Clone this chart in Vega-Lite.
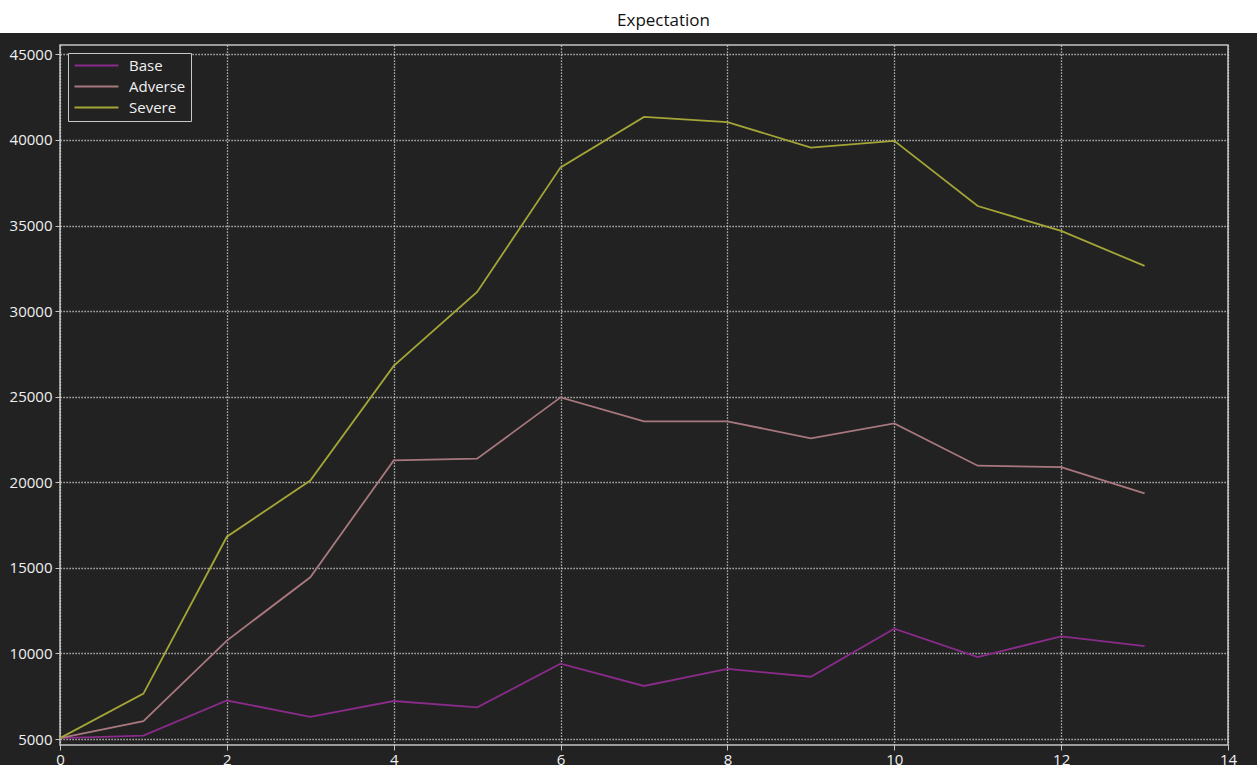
{
  "$schema": "https://vega.github.io/schema/vega-lite/v6.json",
  "background": "#222222",
  "padding": 0,
  "spacing": 11,
  "columns": 1,
  "align": "none",
  "resolve": {"scale": {"color": "independent"}, "legend": {"color": "independent"}},
  "config": {
    "font": "Open Sans"
  },
  "concat": [
    {
      "width": 1257,
      "height": 33,
      "view": {"fill": "#ffffff", "stroke": null},
      "data": {"values": [{"label": "Expectation"}]},
      "mark": {"type": "text", "font": "Open Sans", "fontSize": 17, "color": "#111111", "baseline": "alphabetic", "dx": -25, "dy": 9.5},
      "encoding": {
        "text": {"field": "label", "type": "nominal"},
        "y": {
          "field": "label",
          "type": "nominal",
          "axis": {
            "title": null,
            "labels": false,
            "ticks": false,
            "grid": false,
            "domain": true,
            "domainColor": "#ffffff",
            "domainWidth": 120,
            "domainCap": "butt",
            "translate": 0,
            "minExtent": 0,
            "maxExtent": 0
          }
        }
      }
    },
    {
      "width": 1168,
      "height": 700,
      "view": {"fill": "#222222", "stroke": "#c4c4c4", "strokeWidth": 1.5},
      "data": {
        "values": [
          {"t": 0, "scenario": "Base", "value": 5050},
          {"t": 1, "scenario": "Base", "value": 5200},
          {"t": 2, "scenario": "Base", "value": 7250},
          {"t": 3, "scenario": "Base", "value": 6300},
          {"t": 4, "scenario": "Base", "value": 7220},
          {"t": 5, "scenario": "Base", "value": 6850},
          {"t": 6, "scenario": "Base", "value": 9400},
          {"t": 7, "scenario": "Base", "value": 8100},
          {"t": 8, "scenario": "Base", "value": 9100},
          {"t": 9, "scenario": "Base", "value": 8640},
          {"t": 10, "scenario": "Base", "value": 11450},
          {"t": 11, "scenario": "Base", "value": 9790},
          {"t": 12, "scenario": "Base", "value": 11000},
          {"t": 13, "scenario": "Base", "value": 10430},
          {"t": 0, "scenario": "Adverse", "value": 5050},
          {"t": 1, "scenario": "Adverse", "value": 6040},
          {"t": 2, "scenario": "Adverse", "value": 10750},
          {"t": 3, "scenario": "Adverse", "value": 14450},
          {"t": 4, "scenario": "Adverse", "value": 21280},
          {"t": 5, "scenario": "Adverse", "value": 21380},
          {"t": 6, "scenario": "Adverse", "value": 24960},
          {"t": 7, "scenario": "Adverse", "value": 23560},
          {"t": 8, "scenario": "Adverse", "value": 23560},
          {"t": 9, "scenario": "Adverse", "value": 22570},
          {"t": 10, "scenario": "Adverse", "value": 23440},
          {"t": 11, "scenario": "Adverse", "value": 20970},
          {"t": 12, "scenario": "Adverse", "value": 20880},
          {"t": 13, "scenario": "Adverse", "value": 19350},
          {"t": 0, "scenario": "Severe", "value": 5050},
          {"t": 1, "scenario": "Severe", "value": 7650},
          {"t": 2, "scenario": "Severe", "value": 16820},
          {"t": 3, "scenario": "Severe", "value": 20100},
          {"t": 4, "scenario": "Severe", "value": 26800},
          {"t": 5, "scenario": "Severe", "value": 31120},
          {"t": 6, "scenario": "Severe", "value": 38400},
          {"t": 7, "scenario": "Severe", "value": 41350},
          {"t": 8, "scenario": "Severe", "value": 41050},
          {"t": 9, "scenario": "Severe", "value": 39550},
          {"t": 10, "scenario": "Severe", "value": 39950},
          {"t": 11, "scenario": "Severe", "value": 36140},
          {"t": 12, "scenario": "Severe", "value": 34690},
          {"t": 13, "scenario": "Severe", "value": 32640}
        ]
      },
      "mark": {"type": "line", "strokeWidth": 1.8},
      "encoding": {
        "x": {
          "field": "t",
          "type": "quantitative",
          "scale": {"domain": [0, 14], "nice": false, "zero": false},
          "axis": {
            "title": null,
            "values": [0, 2, 4, 6, 8, 10, 12, 14],
            "domain": false,
            "grid": true,
            "gridColor": "#d8d8d8",
            "gridDash": [1.2, 1.8],
            "gridWidth": 1.3,
            "gridOpacity": 1,
            "ticks": true,
            "tickColor": "#c4c4c4",
            "tickSize": 5,
            "labelColor": "#f0f0f0",
            "labelFont": "Open Sans",
            "labelFontSize": 15,
            "labelPadding": 2,
            "labelFlush": false,
            "labelOverlap": false
          }
        },
        "y": {
          "field": "value",
          "type": "quantitative",
          "scale": {"domain": [4650, 45550], "nice": false, "zero": false},
          "axis": {
            "title": null,
            "values": [5000, 10000, 15000, 20000, 25000, 30000, 35000, 40000, 45000],
            "format": "d",
            "domain": false,
            "grid": true,
            "gridColor": "#d8d8d8",
            "gridDash": [1.2, 1.8],
            "gridWidth": 1.3,
            "gridOpacity": 1,
            "ticks": true,
            "tickColor": "#c4c4c4",
            "tickSize": 5,
            "labelColor": "#f0f0f0",
            "labelFont": "Open Sans",
            "labelFontSize": 15,
            "labelPadding": 3,
            "labelFlush": false,
            "labelOverlap": false,
            "minExtent": 59,
            "maxExtent": 59
          }
        },
        "color": {
          "field": "scenario",
          "type": "nominal",
          "sort": ["Base", "Adverse", "Severe"],
          "scale": {"domain": ["Base", "Adverse", "Severe"], "range": ["#8a2b8a", "#a8787e", "#a3a636"]},
          "legend": {
            "title": null,
            "orient": "top-left",
            "offset": 8,
            "padding": 5,
            "strokeColor": "#c8c8c8",
            "fillColor": "#222222",
            "labelColor": "#f0f0f0",
            "labelFont": "Open Sans",
            "labelFontSize": 15,
            "labelOffset": 41,
            "symbolType": "M-1,0L6.33,0",
            "symbolSize": 144,
            "symbolStrokeWidth": 2,
            "rowPadding": 5
          }
        }
      }
    }
  ]
}
